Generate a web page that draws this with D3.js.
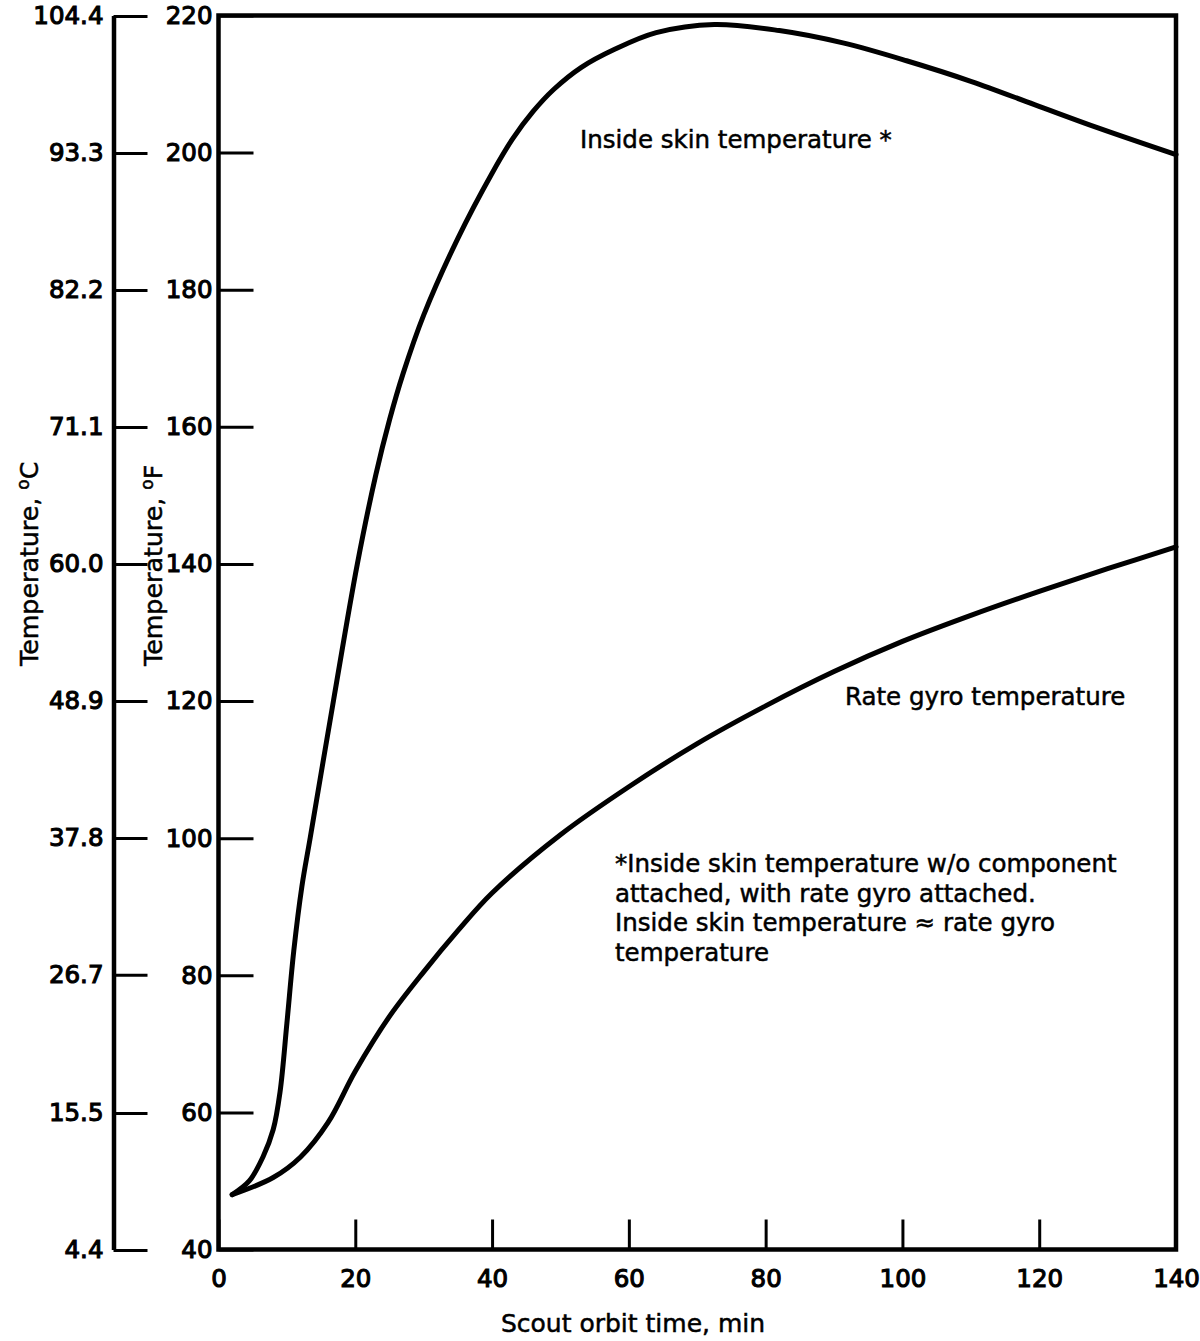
<!DOCTYPE html>
<html>
<head>
<meta charset="utf-8">
<script src="https://cdn.jsdelivr.net/npm/d3@7"></script>
<style>
  body { margin: 0; background: #fff; }
  svg { display: block; }
  text { font-family: "DejaVu Sans", sans-serif; fill: #000; }
</style>
</head>
<body>
<svg id="chart" width="1200" height="1341"></svg>
<script>
// Orbit time (min) tick values and temperature tick values
const timeTicks = [0, 20, 40, 60, 80, 100, 120, 140];
const fahrenheitTicks = [40, 60, 80, 100, 120, 140, 160, 180, 200, 220];
const celsiusTickLabels = ["4.4", "15.5", "26.7", "37.8", "48.9", "60.0", "71.1", "82.2", "93.3", "104.4"];

// Inside skin temperature, °F, against orbit time
const skinTime = [2, 4.5, 6.5, 8, 9, 10, 11, 12.2, 13.4, 16.8, 20.3, 23, 25, 27, 30, 35, 40, 43, 46, 49, 53, 58, 64, 72.5, 82, 91.3, 100.6, 110, 119.3, 128.6, 140];
const skinTempF = [48, 50, 53.5, 57.5, 63, 73, 83.5, 93, 100, 120, 140, 153, 161, 167.8, 176.3, 187.5, 197, 202, 206, 209.2, 212.4, 215.1, 217.5, 218.7, 217.8, 216, 213.4, 210.4, 207, 203.6, 199.7];

// Rate gyro temperature, °F, against orbit time
const gyroTime = [2, 8, 12, 16, 20, 25, 30, 35, 40, 50, 60, 70, 80, 90, 100, 110, 120, 130, 140];
const gyroTempF = [48, 50.5, 53.5, 58.5, 66, 74, 80.5, 86.5, 92, 100.5, 107.5, 113.8, 119.3, 124.3, 128.7, 132.5, 136, 139.3, 142.5];

const svg = d3.select("#chart");

const plot = { left: 218.5, right: 1176, top: 15.5, bottom: 1249.5 };

const x = d3.scaleLinear().domain([0, 140]).range([plot.left, plot.right]);
const yF = d3.scaleLinear().domain([40, 220]).range([plot.bottom, plot.top]);
const toC = f => (f - 32) * 5 / 9;
const yC = d3.scaleLinear().domain([toC(40), toC(220)]).range([plot.bottom, plot.top]);

const tickFont = sel => sel.selectAll("text")
  .attr("font-size", 24.5)
  .attr("fill", "#000")
  .attr("stroke", "#000")
  .attr("stroke-width", 1.1)
  .attr("font-family", "DejaVu Sans, sans-serif");

// Celsius axis: separate spine on the far left, ticks pointing right
const cAxisX = 113.5;
const cAxis = svg.append("g")
  .attr("transform", `translate(${cAxisX},0)`)
  .call(d3.axisLeft(yC)
    .tickValues(celsiusTickLabels.map(Number))
    .tickFormat((d, i) => celsiusTickLabels[i])
    .tickSize(-34)
    .tickSizeOuter(0)
    .tickPadding(10));
cAxis.select(".domain").attr("stroke", "#000").attr("stroke-width", 4.5);
cAxis.selectAll(".tick line").attr("stroke", "#000").attr("stroke-width", 3);
tickFont(cAxis);

// Fahrenheit axis on the plot frame, inward ticks
const fAxis = svg.append("g")
  .attr("transform", `translate(${plot.left},0)`)
  .call(d3.axisLeft(yF)
    .tickValues(fahrenheitTicks)
    .tickSize(-35)
    .tickSizeOuter(0)
    .tickPadding(6));
fAxis.select(".domain").remove();
fAxis.selectAll(".tick line").attr("stroke", "#000").attr("stroke-width", 3);
tickFont(fAxis);

// Time axis, inward ticks
const tAxis = svg.append("g")
  .attr("transform", `translate(0,${plot.bottom})`)
  .call(d3.axisBottom(x)
    .tickValues(timeTicks)
    .tickSize(-30)
    .tickSizeOuter(0)
    .tickPadding(20));
tAxis.select(".domain").remove();
tAxis.selectAll(".tick line").attr("stroke", "#000").attr("stroke-width", 3);
tickFont(tAxis);

// Plot frame
svg.append("rect")
  .attr("x", plot.left).attr("y", plot.top)
  .attr("width", plot.right - plot.left)
  .attr("height", plot.bottom - plot.top)
  .attr("fill", "none")
  .attr("stroke", "#000")
  .attr("stroke-width", 4.5);

// Temperature curves
const line = d3.line()
  .x(d => x(d[0]))
  .y(d => yF(d[1]))
  .curve(d3.curveCatmullRom.alpha(0.5));

[d3.zip(skinTime, skinTempF), d3.zip(gyroTime, gyroTempF)].forEach(series => {
  svg.append("path")
    .datum(series)
    .attr("d", line)
    .attr("fill", "none")
    .attr("stroke", "#000")
    .attr("stroke-width", 5)
    .attr("stroke-linejoin", "round")
    .attr("stroke-linecap", "round");
});

// Curve labels and footnote
const label = (tx, ty, str) => svg.append("text")
  .attr("x", tx).attr("y", ty)
  .attr("font-size", 24.5)
  .attr("stroke", "#000").attr("stroke-width", 0.5)
  .text(str);

label(580, 148, "Inside skin temperature *");
label(845, 705, "Rate gyro temperature");

const notes = [
  "*Inside skin temperature w/o component",
  "attached, with rate gyro attached.",
  "Inside skin temperature \u2248 rate gyro",
  "temperature"
];
notes.forEach((n, i) => label(615, 872 + i * 29.5, n));

// Axis titles
svg.append("text")
  .attr("x", 633).attr("y", 1332)
  .attr("text-anchor", "middle")
  .attr("font-size", 25)
  .attr("stroke", "#000").attr("stroke-width", 0.5)
  .text("Scout orbit time, min");

const yTitle = (tx, unit) => {
  const t = svg.append("text")
    .attr("transform", `translate(${tx},666) rotate(-90)`)
    .attr("font-size", 25.3)
    .attr("stroke", "#000").attr("stroke-width", 0.5);
  t.append("tspan").text("Temperature, ");
  t.append("tspan").attr("font-size", 17).attr("dy", -9).text("o");
  t.append("tspan").attr("dy", 9).text(unit);
};
yTitle(38, "C");
yTitle(162, "F");
</script>
</body>
</html>
